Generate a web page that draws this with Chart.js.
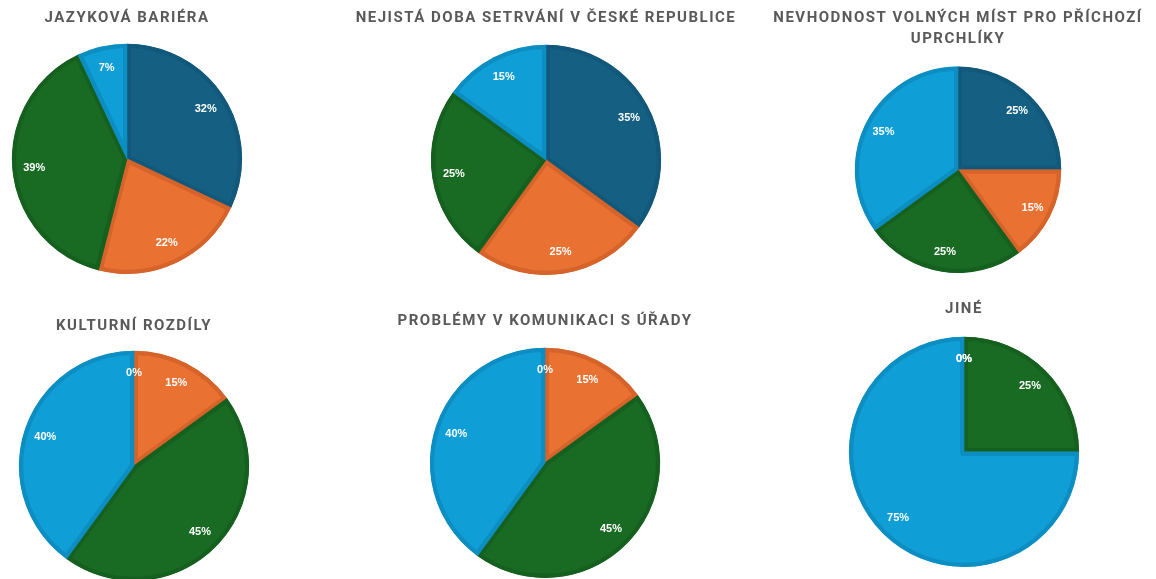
<!DOCTYPE html>
<html>
<head>
<meta charset="utf-8">
<script src="https://cdn.jsdelivr.net/npm/chart.js@4.4.1/dist/chart.umd.min.js"></script>
<style>
  html, body { margin: 0; padding: 0; background: #ffffff; }
  body { width: 1156px; height: 579px; position: relative; overflow: hidden; }
  .box { position: absolute; }
</style>
</head>
<body>
<div class="box" style="left:2px;top:0px;width:250px;height:274px"><canvas id="c1"></canvas></div>
<div class="box" style="left:346px;top:0px;width:400px;height:275px"><canvas id="c2"></canvas></div>
<div class="box" style="left:763px;top:0px;width:390px;height:273px"><canvas id="c3"></canvas></div>
<div class="box" style="left:9px;top:300px;width:250px;height:281px"><canvas id="c4"></canvas></div>
<div class="box" style="left:345px;top:296px;width:400px;height:282px"><canvas id="c5"></canvas></div>
<div class="box" style="left:839px;top:284px;width:250px;height:283px"><canvas id="c6"></canvas></div>
<script>
document.addEventListener('DOMContentLoaded', function() {
    // categories (no legend in the original)
    const categories = ['Kategorie 1', 'Kategorie 2', 'Kategorie 3', 'Kategorie 4'];

    // values in %
    const jazykovaBariera = [32, 22, 39, 7];
    const nejistaDoba = [35, 25, 25, 15];
    const nevhodnostMist = [25, 15, 25, 35];
    const kulturniRozdily = [0, 15, 45, 40];
    const problemyUrady = [0, 15, 45, 40];
    const jine = [0, 0, 25, 75];

    const fillColors = ['#156082', '#e97132', '#196b24', '#0f9ed5'];
    const edgeColors = ['#11587a', '#d5632a', '#16601f', '#0c8ec2'];

    // wider letter spacing for the titles only
    const titleSpacing = {
        id: 'titleSpacing',
        beforeDraw(chart) { chart.ctx.letterSpacing = '1.5px'; },
        beforeDatasetsDraw(chart) { chart.ctx.letterSpacing = '0px'; }
    };

    // white percent labels inside the slices
    const pctLabels = {
        id: 'pctLabels',
        afterDatasetsDraw(chart) {
            const ctx = chart.ctx;
            const meta = chart.getDatasetMeta(0);
            const data = chart.data.datasets[0].data;
            ctx.save();
            ctx.font = 'bold 11px "Liberation Sans", Arial, sans-serif';
            ctx.fillStyle = '#ffffff';
            ctx.textAlign = 'center';
            ctx.textBaseline = 'middle';
            meta.data.forEach((arc, i) => {
                const p = arc.getProps(['x', 'y', 'startAngle', 'endAngle', 'outerRadius'], true);
                const mid = (p.startAngle + p.endAngle) / 2;
                const r = p.outerRadius * 0.81;
                ctx.fillText(data[i] + '%', p.x + Math.cos(mid) * r, p.y + Math.sin(mid) * r);
            });
            ctx.restore();
        }
    };

    function makePie(id, title, values, padTop, padBottom) {
        const ctx = document.getElementById(id).getContext('2d');
        return new Chart(ctx, {
            type: 'pie',
            data: {
                labels: categories,
                datasets: [{
                    data: values,
                    backgroundColor: fillColors,
                    borderColor: edgeColors,
                    borderWidth: 4,
                    borderAlign: 'inner'
                }]
            },
            options: {
                responsive: true,
                maintainAspectRatio: false,
                animation: false,
                layout: { padding: 0 },
                plugins: {
                    legend: { display: false },
                    tooltip: { enabled: false },
                    title: {
                        display: true,
                        text: title,
                        color: '#595959',
                        font: { family: 'Roboto', size: 15, weight: 'bold', lineHeight: 1.45 },
                        padding: { top: padTop, bottom: padBottom }
                    }
                }
            },
            plugins: [titleSpacing, pctLabels]
        });
    }

    makePie('c1', 'JAZYKOVÁ BARIÉRA', jazykovaBariera, 7, 15);
    makePie('c2', 'NEJISTÁ DOBA SETRVÁNÍ V ČESKÉ REPUBLICE', nejistaDoba, 7, 16);
    makePie('c3', ['NEVHODNOST VOLNÝCH MÍST PRO PŘÍCHOZÍ', 'UPRCHLÍKY'], nevhodnostMist, 7, 16);
    makePie('c4', 'KULTURNÍ ROZDÍLY', kulturniRozdily, 15, 14);
    makePie('c5', 'PROBLÉMY V KOMUNIKACI S ÚŘADY', problemyUrady, 14, 16);
    makePie('c6', 'JINÉ', jine, 14, 17);
});
</script>
</body>
</html>
